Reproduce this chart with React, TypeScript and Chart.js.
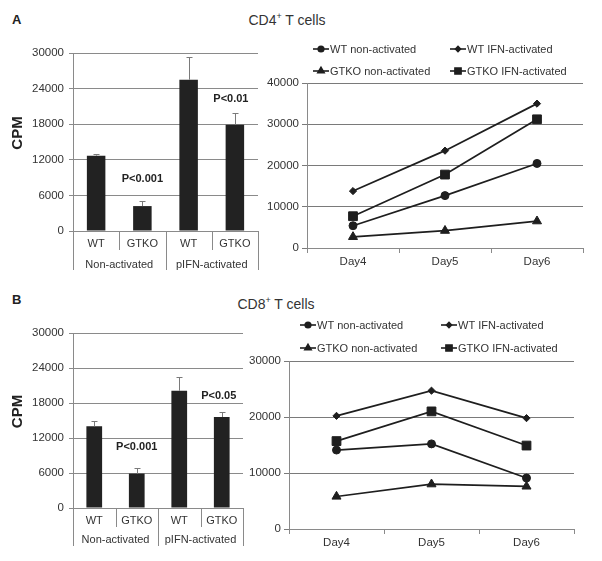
import React, { useEffect, useRef } from "react";
import { Chart, registerables } from "chart.js";
import { drawPoint } from "chart.js/helpers";
Chart.register(...registerables);

// ---------- DATA ----------
const barCategories = ["WT", "GTKO", "WT", "GTKO"];
const barGroups = ["Non-activated", "pIFN-activated"];
const barTicksMax = 30000;
const barTickStep = 6000;

const cd4BarValues = [12700, 4200, 25500, 17900];
const cd4BarErrors = [300, 800, 3800, 2000];
const cd4PLabels = ["", "P<0.001", "", "P<0.01"];

const cd8BarValues = [14000, 5900, 20100, 15600];
const cd8BarErrors = [1000, 900, 2300, 800];
const cd8PLabels = ["", "P<0.001", "", "P<0.05"];

const days = ["Day4", "Day5", "Day6"];
const seriesNames = ["WT non-activated", "WT IFN-activated", "GTKO non-activated", "GTKO IFN-activated"];

const cd4WtNon = [5400, 12700, 20500];
const cd4WtIfn = [13800, 23600, 35000];
const cd4GtkoNon = [2700, 4200, 6500];
const cd4GtkoIfn = [7700, 17800, 31200];

const cd8WtNon = [14100, 15200, 9100];
const cd8WtIfn = [20200, 24700, 19800];
const cd8GtkoNon = [5800, 8000, 7600];
const cd8GtkoIfn = [15700, 21000, 14900];

// ---------- STYLE ----------
const FONT = '"Liberation Sans", Arial, sans-serif';
const TEXT = "#333333";
const GRID = "#8a8a8a";
const INK = "#1e1e1e";

const markerStyles = [
  { pointStyle: "circle", radius: 4 },
  { pointStyle: "rectRot", radius: 3.6 },
  { pointStyle: "triangle", radius: 5.2 },
  { pointStyle: "rect", radius: 6.2 },
];

const plainTick = (v: any) => String(v);

// ---------- PLUGINS ----------
const barDecor = {
  id: "barDecor",
  afterDatasetsDraw(chart: any, _args: any, opts: any) {
    const ctx = chart.ctx;
    const x = chart.scales.x;
    const y = chart.scales.y;
    const ds = chart.data.datasets[0];
    const meta = chart.getDatasetMeta(0);
    ctx.save();
    // error bars
    ctx.strokeStyle = "#7a7a7a";
    ctx.lineWidth = 1;
    opts.errors.forEach((e: number, i: number) => {
      const v = ds.data[i];
      const cx = Math.round(meta.data[i].x) + 0.5;
      const y0 = y.getPixelForValue(v);
      const y1 = Math.round(y.getPixelForValue(v + e)) + 0.5;
      ctx.beginPath();
      ctx.moveTo(cx, y0);
      ctx.lineTo(cx, y1);
      ctx.moveTo(cx - 3, y1);
      ctx.lineTo(cx + 3, y1);
      ctx.stroke();
    });
    // p labels
    ctx.fillStyle = "#222";
    ctx.font = `bold 11px ${FONT}`;
    ctx.textAlign = "center";
    ctx.textBaseline = "middle";
    opts.pLabels.forEach((t: string, i: number) => {
      if (!t) return;
      const top = y.getPixelForValue(ds.data[i] + opts.errors[i]);
      ctx.fillText(t, meta.data[i].x + opts.pOffX[i], top - opts.pOffY[i]);
    });
    // category axis labels & separators
    const zero = y.getPixelForValue(0);
    const n = chart.data.labels.length;
    const half = (x.getPixelForValue(1) - x.getPixelForValue(0)) / 2;
    ctx.strokeStyle = GRID;
    for (let i = 0; i <= n; i++) {
      const bx = Math.round(i < n ? x.getPixelForValue(i) - half : x.getPixelForValue(n - 1) + half) + 0.5;
      const len = i % 2 === 0 ? opts.longSep : opts.shortSep;
      ctx.beginPath();
      ctx.moveTo(bx, zero);
      ctx.lineTo(bx, zero + len);
      ctx.stroke();
    }
    ctx.fillStyle = TEXT;
    ctx.font = `11px ${FONT}`;
    chart.data.labels.forEach((l: string, i: number) => {
      ctx.fillText(l, x.getPixelForValue(i), zero + opts.row1);
    });
    opts.groups.forEach((g: string, k: number) => {
      const cx = (x.getPixelForValue(2 * k) + x.getPixelForValue(2 * k + 1)) / 2;
      ctx.fillText(g, cx, zero + opts.row2);
    });
    // CPM axis title
    ctx.save();
    ctx.font = `bold 15px ${FONT}`;
    ctx.fillStyle = "#222";
    ctx.translate(opts.titleX, (chart.chartArea.top + chart.chartArea.bottom) / 2 - 9);
    ctx.rotate(-Math.PI / 2);
    ctx.fillText("CPM", 0, 0);
    ctx.restore();
    ctx.restore();
  },
};

const lineLegend = {
  id: "lineLegend",
  afterDraw(chart: any, _args: any, opts: any) {
    const ctx = chart.ctx;
    ctx.save();
    ctx.font = `11px ${FONT}`;
    ctx.textBaseline = "middle";
    ctx.textAlign = "left";
    chart.data.datasets.forEach((ds: any, i: number) => {
      const x0 = opts.cols[i % 2];
      const y0 = opts.rows[Math.floor(i / 2)];
      ctx.strokeStyle = INK;
      ctx.lineWidth = 1.6;
      ctx.beginPath();
      ctx.moveTo(x0, y0);
      ctx.lineTo(x0 + 16, y0);
      ctx.stroke();
      ctx.fillStyle = INK;
      drawPoint(ctx, { pointStyle: ds.pointStyle, radius: ds.pointRadius * 0.7, rotation: 0, borderWidth: 1 }, x0 + 8, y0);
      ctx.fillStyle = TEXT;
      ctx.fillText(ds.label, x0 + 17, y0 + 0.5);
    });
    ctx.restore();
  },
};

// ---------- CONFIG BUILDERS ----------
function barConfig(values: number[], errors: number[], pLabels: string[], box: any) {
  return {
    type: "bar",
    data: {
      labels: barCategories,
      datasets: [
        { data: values, backgroundColor: "#222222", barPercentage: box.barPct, categoryPercentage: 1 },
      ],
    },
    options: {
      responsive: false,
      animation: false,
      layout: { padding: { left: 0, top: box.padTop, right: box.padRight, bottom: 0 }, autoPadding: false },
      plugins: {
        legend: { display: false },
        tooltip: { enabled: false },
        barDecor: {
          errors,
          pLabels,
          pOffX: box.pOffX,
          pOffY: box.pOffY,
          groups: barGroups,
          shortSep: box.shortSep,
          longSep: box.longSep,
          row1: box.row1,
          row2: box.row2,
          titleX: 18,
        },
      },
      scales: {
        x: {
          grid: { display: false },
          ticks: { display: false },
          border: { display: false },
          afterFit: (s: any) => { s.height = box.xH; },
        },
        y: {
          min: 0,
          max: barTicksMax,
          ticks: { stepSize: barTickStep, font: { family: FONT, size: 11.5 }, color: TEXT, padding: 5, callback: plainTick },
          grid: { color: GRID, tickLength: 4 },
          border: { color: GRID },
          afterFit: (s: any) => { s.width = box.yW; },
        },
      },
    },
    plugins: [barDecor],
  };
}

function lineConfig(series: number[][], yMax: number, box: any) {
  return {
    type: "line",
    data: {
      labels: days,
      datasets: series.map((d, i) => ({
        label: seriesNames[i],
        data: d,
        borderColor: INK,
        backgroundColor: INK,
        borderWidth: 1.7,
        pointStyle: markerStyles[i].pointStyle,
        pointRadius: markerStyles[i].radius,
        pointBorderWidth: 1,
        pointBackgroundColor: INK,
        pointBorderColor: INK,
        tension: 0,
      })),
    },
    options: {
      responsive: false,
      animation: false,
      layout: { padding: { left: 0, top: box.padTop, right: box.padRight, bottom: 0 }, autoPadding: false },
      plugins: {
        legend: { display: false },
        tooltip: { enabled: false },
        lineLegend: { cols: box.cols, rows: box.rows },
      },
      scales: {
        x: {
          offset: true,
          grid: { display: true, drawOnChartArea: false, offset: true, tickLength: 5, color: GRID },
          border: { color: GRID },
          ticks: { font: { family: FONT, size: 11.5 }, color: TEXT, padding: 2 },
          afterFit: (s: any) => { s.height = box.xH; },
        },
        y: {
          min: 0,
          max: yMax,
          ticks: { stepSize: 10000, font: { family: FONT, size: 11.5 }, color: TEXT, padding: 3, callback: plainTick },
          grid: { color: "#7a7a7a", tickLength: 5 },
          border: { color: GRID },
          afterFit: (s: any) => { s.width = box.yW; },
        },
      },
    },
    plugins: [lineLegend],
  };
}

// ---------- COMPONENTS ----------
function ChartBox({ left, top, width, height, make }: any) {
  const ref = useRef<HTMLCanvasElement>(null);
  useEffect(() => {
    const chart = new Chart(ref.current as any, make());
    return () => chart.destroy();
  }, []);
  return (
    <div style={{ position: "absolute", left, top, width, height }}>
      <canvas ref={ref} width={width} height={height} style={{ width, height, display: "block" }} />
    </div>
  );
}

const txt: React.CSSProperties = { position: "absolute", fontFamily: FONT, color: TEXT, whiteSpace: "nowrap", lineHeight: "16px" };

export default function App() {
  return (
    <div style={{ position: "fixed", left: 0, top: 0, width: 602, height: 561, background: "#fff", overflow: "hidden" }}>
      <div style={{ ...txt, left: 12, top: 12, fontWeight: "bold", fontSize: 13, color: "#222" }}>A</div>
      <div style={{ ...txt, left: 212, width: 150, textAlign: "center", top: 12, fontSize: 14 }}>
        CD4<sup style={{ fontSize: 9, verticalAlign: "6px", lineHeight: 0 }}>+</sup> T cells
      </div>
      <div style={{ ...txt, left: 12, top: 292, fontWeight: "bold", fontSize: 13, color: "#222" }}>B</div>
      <div style={{ ...txt, left: 201, width: 150, textAlign: "center", top: 296, fontSize: 14 }}>
        CD8<sup style={{ fontSize: 9, verticalAlign: "6px", lineHeight: 0 }}>+</sup> T cells
      </div>

      <ChartBox left={0} top={30} width={280} height={250}
        make={() => barConfig(cd4BarValues, cd4BarErrors, cd4PLabels, {
          barPct: 0.4, padTop: 23, padRight: 22, yW: 73, xH: 49,
          pOffX: [0, 0, 0, -4], pOffY: [0, 22, 0, 14],
          shortSep: 19, longSep: 39, row1: 13, row2: 34,
        })} />
      <ChartBox left={0} top={300} width={270} height={255}
        make={() => barConfig(cd8BarValues, cd8BarErrors, cd8PLabels, {
          barPct: 0.37, padTop: 33, padRight: 27, yW: 73, xH: 47,
          pOffX: [0, 0, 0, -3], pOffY: [0, 21, 0, 16],
          shortSep: 19, longSep: 38, row1: 12.5, row2: 32,
        })} />
      <ChartBox left={265} top={35} width={330} height={240}
        make={() => lineConfig([cd4WtNon, cd4WtIfn, cd4GtkoNon, cd4GtkoIfn], 40000, {
          padTop: 48, padRight: 12, yW: 42, xH: 27, cols: [48, 185], rows: [14, 36],
        })} />
      <ChartBox left={245} top={310} width={350} height={240}
        make={() => lineConfig([cd8WtNon, cd8WtIfn, cd8GtkoNon, cd8GtkoIfn], 30000, {
          padTop: 51, padRight: 21, yW: 44, xH: 21, cols: [55, 196], rows: [15, 38],
        })} />
    </div>
  );
}
